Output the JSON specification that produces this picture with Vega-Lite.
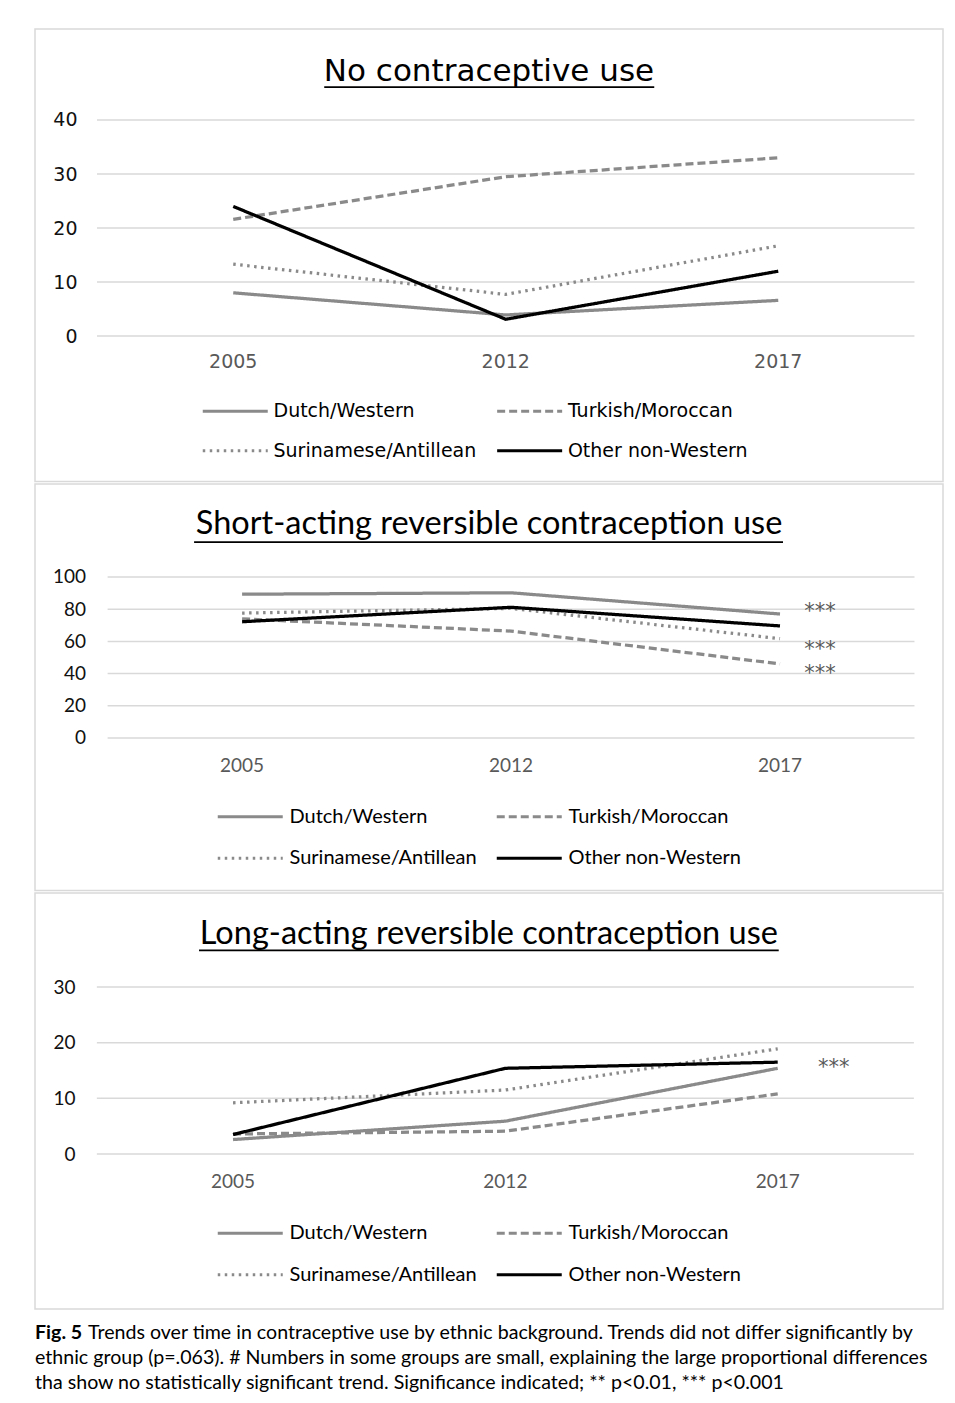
{
  "$schema": "https://vega.github.io/schema/vega-lite/v6.json",
  "background": "white",
  "padding": {"left": 34, "top": 28, "right": 13, "bottom": 5},
  "config": {
    "view": {"stroke": "#d9d9d9", "strokeWidth": 1.5},
    "concat": {"spacing": 0},
    "axis": {"grid": false, "domain": false, "ticks": false, "tickSize": 0}
  },
  "datasets": {
    "none": [
      {"year": "2005", "group": "Dutch/Western", "value": 8.0},
      {"year": "2012", "group": "Dutch/Western", "value": 3.9},
      {"year": "2017", "group": "Dutch/Western", "value": 6.6},
      {"year": "2005", "group": "Turkish/Moroccan", "value": 21.6},
      {"year": "2012", "group": "Turkish/Moroccan", "value": 29.5},
      {"year": "2017", "group": "Turkish/Moroccan", "value": 33.0},
      {"year": "2005", "group": "Surinamese/Antillean", "value": 13.3},
      {"year": "2012", "group": "Surinamese/Antillean", "value": 7.7},
      {"year": "2017", "group": "Surinamese/Antillean", "value": 16.7},
      {"year": "2005", "group": "Other non-Western", "value": 24.0},
      {"year": "2012", "group": "Other non-Western", "value": 3.1},
      {"year": "2017", "group": "Other non-Western", "value": 12.0}
    ],
    "short": [
      {"year": "2005", "group": "Dutch/Western", "value": 89.3},
      {"year": "2012", "group": "Dutch/Western", "value": 90.2},
      {"year": "2017", "group": "Dutch/Western", "value": 77.0},
      {"year": "2005", "group": "Turkish/Moroccan", "value": 74.0},
      {"year": "2012", "group": "Turkish/Moroccan", "value": 66.4},
      {"year": "2017", "group": "Turkish/Moroccan", "value": 46.0},
      {"year": "2005", "group": "Surinamese/Antillean", "value": 77.6},
      {"year": "2012", "group": "Surinamese/Antillean", "value": 80.5},
      {"year": "2017", "group": "Surinamese/Antillean", "value": 61.7},
      {"year": "2005", "group": "Other non-Western", "value": 72.2},
      {"year": "2012", "group": "Other non-Western", "value": 81.2},
      {"year": "2017", "group": "Other non-Western", "value": 69.6}
    ],
    "long": [
      {"year": "2005", "group": "Dutch/Western", "value": 2.6},
      {"year": "2012", "group": "Dutch/Western", "value": 5.9},
      {"year": "2017", "group": "Dutch/Western", "value": 15.4},
      {"year": "2005", "group": "Turkish/Moroccan", "value": 3.6},
      {"year": "2012", "group": "Turkish/Moroccan", "value": 4.1},
      {"year": "2017", "group": "Turkish/Moroccan", "value": 10.8},
      {"year": "2005", "group": "Surinamese/Antillean", "value": 9.2},
      {"year": "2012", "group": "Surinamese/Antillean", "value": 11.5},
      {"year": "2017", "group": "Surinamese/Antillean", "value": 18.9},
      {"year": "2005", "group": "Other non-Western", "value": 3.5},
      {"year": "2012", "group": "Other non-Western", "value": 15.4},
      {"year": "2017", "group": "Other non-Western", "value": 16.5}
    ],
    "ticks1": [{"tick": 0}, {"tick": 10}, {"tick": 20}, {"tick": 30}, {"tick": 40}],
    "ticks2": [{"tick": 0}, {"tick": 20}, {"tick": 40}, {"tick": 60}, {"tick": 80}, {"tick": 100}],
    "ticks3": [{"tick": 0}, {"tick": 10}, {"tick": 20}, {"tick": 30}],
    "sig2": [
      {"year": "2017", "value": 80.1, "label": "***"},
      {"year": "2017", "value": 56.5, "label": "***"},
      {"year": "2017", "value": 41.6, "label": "***"}
    ],
    "sig3": [
      {"year": "2017", "value": 15.6, "label": "***"}
    ]
  },
  "title": {
    "text": "Fig. 5",
    "subtitle": [
      "ethnic group (p=.063). # Numbers in some groups are small, explaining the large proportional differences",
      "tha show no statistically significant trend. Significance indicated; ** p<0.01, *** p<0.001"
    ],
    "orient": "bottom",
    "anchor": "start",
    "frame": "group",
    "baseline": "top",
    "offset": -19,
    "font": "Lato",
    "fontSize": 19.6,
    "fontWeight": "bold",
    "color": "#000000",
    "subtitleFont": "Lato",
    "subtitleFontSize": 19.6,
    "subtitleColor": "#000000",
    "subtitleLineHeight": 25,
    "subtitlePadding": 5.4
  },
  "vconcat": [
    {
      "width": 908,
      "height": 452.5,
      "layer": [
        {
          "data": {"name": "ticks1"},
          "mark": {"type": "rule", "color": "#d9d9d9", "strokeWidth": 1.5},
          "encoding": {
            "y": {"field": "tick", "type": "quantitative", "title": null},
            "x": {"datum": "2005", "bandPosition": 0, "title": null},
            "x2": {"datum": "2017", "bandPosition": 1}
          }
        },
        {
          "data": {"values": [{}]},
          "mark": {"type": "text", "font": "DejaVu Sans", "fontSize": 31, "color": "#000000", "align": "center", "baseline": "alphabetic", "dx": -16.75},
          "encoding": {
            "y": {"datum": 47.2, "title": null},
            "x": {"datum": "2012", "bandPosition": 0.5, "title": null},
            "text": {"value": "No contraceptive use"}
          }
        },
        {
          "data": {"values": [{}]},
          "mark": {"type": "rule", "color": "#000000", "strokeWidth": 1.8, "xOffset": 91, "x2Offset": -124},
          "encoding": {
            "y": {"datum": 46.1, "title": null},
            "x": {"datum": "2005", "bandPosition": 0.5, "title": null},
            "x2": {"datum": "2017", "bandPosition": 0.5}
          }
        },
        {
          "data": {"name": "none"},
          "mark": {"type": "line", "strokeWidth": 3.25},
          "encoding": {
            "x": {"field": "year", "type": "ordinal", "title": null,
              "scale": {"type": "band", "domain": ["2005", "2012", "2017"], "paddingInner": 0, "paddingOuter": 0.166, "align": 0.685},
              "axis": {"orient": "bottom", "offset": -120.5, "labelPadding": 0, "labelAngle": 0, "labelAlign": "center", "labelFont": "DejaVu Sans", "labelFontSize": 19, "labelColor": "#595959", "domain": false, "ticks": false, "grid": false}},
            "y": {"field": "value", "type": "quantitative", "title": null,
              "scale": {"domain": [-26.94, 56.85], "nice": false, "zero": false},
              "axis": {"orient": "left", "offset": -62, "labelPadding": 20, "values": [0, 10, 20, 30, 40], "labelFont": "DejaVu Sans", "labelFontSize": 19, "labelColor": "#111111", "domain": false, "ticks": false, "grid": false}},
            "color": {"field": "group", "type": "nominal",
              "scale": {"domain": ["Dutch/Western", "Turkish/Moroccan", "Surinamese/Antillean", "Other non-Western"], "range": ["#8a8a8a", "#8a8a8a", "#8a8a8a", "#000000"]},
              "legend": {"title": null, "orient": "none", "legendX": 182.25, "legendY": 364.25, "columns": 2, "direction": "horizontal", "padding": 0, "symbolType": "M-2,0H2", "symbolSize": 1056.25, "symbolStrokeWidth": 3, "symbolFillColor": "transparent", "labelOffset": 20.25, "columnPadding": 13.4, "rowPadding": 11.5, "labelFont": "DejaVu Sans", "labelFontSize": 19, "labelColor": "#000000", "labelLimit": 0}},
            "strokeDash": {"field": "group", "type": "nominal",
              "scale": {"domain": ["Dutch/Western", "Turkish/Moroccan", "Surinamese/Antillean", "Other non-Western"], "range": [[1, 0], [8, 4], [2.5, 4.5], [1, 0]]},
              "legend": {"title": null, "orient": "none", "legendX": 182.25, "legendY": 364.25, "columns": 2, "direction": "horizontal", "padding": 0, "symbolType": "M-2,0H2", "symbolSize": 1056.25, "symbolStrokeWidth": 3, "symbolFillColor": "transparent", "labelOffset": 20.25, "columnPadding": 13.4, "rowPadding": 11.5, "labelFont": "DejaVu Sans", "labelFontSize": 19, "labelColor": "#000000", "labelLimit": 0}}
          }
        }
      ]
    },
    {
      "width": 908,
      "height": 406.5,
      "layer": [
        {
          "data": {"name": "ticks2"},
          "mark": {"type": "rule", "color": "#d9d9d9", "strokeWidth": 1.5},
          "encoding": {
            "y": {"field": "tick", "type": "quantitative", "title": null},
            "x": {"datum": "2005", "bandPosition": 0, "title": null},
            "x2": {"datum": "2017", "bandPosition": 1}
          }
        },
        {
          "data": {"values": [{}]},
          "mark": {"type": "text", "font": "Lato", "fontSize": 32.5, "color": "#000000", "align": "center", "baseline": "alphabetic", "dx": -22},
          "encoding": {
            "y": {"datum": 126.7, "title": null},
            "x": {"datum": "2012", "bandPosition": 0.5, "title": null},
            "text": {"value": "Short-acting reversible contraception use"}
          }
        },
        {
          "data": {"values": [{}]},
          "mark": {"type": "rule", "color": "#000000", "strokeWidth": 1.8, "xOffset": -48, "x2Offset": 3},
          "encoding": {
            "y": {"datum": 121.7, "title": null},
            "x": {"datum": "2005", "bandPosition": 0.5, "title": null},
            "x2": {"datum": "2017", "bandPosition": 0.5}
          }
        },
        {
          "data": {"name": "short"},
          "mark": {"type": "line", "strokeWidth": 3.25},
          "encoding": {
            "x": {"field": "year", "type": "ordinal", "title": null,
              "scale": {"type": "band", "domain": ["2005", "2012", "2017"], "paddingInner": 0, "paddingOuter": 0.188, "align": 0.718},
              "axis": {"orient": "bottom", "offset": -125, "labelPadding": 0, "labelAngle": 0, "labelAlign": "center", "labelFont": "Lato", "labelFontSize": 19, "labelColor": "#595959", "domain": false, "ticks": false, "grid": false}},
            "y": {"field": "value", "type": "quantitative", "title": null,
              "scale": {"domain": [-94.72, 157.76], "nice": false, "zero": false},
              "axis": {"orient": "left", "offset": -72.6, "labelPadding": 22, "values": [0, 20, 40, 60, 80, 100], "labelFont": "Lato", "labelFontSize": 19, "labelColor": "#111111", "domain": false, "ticks": false, "grid": false}},
            "color": {"field": "group", "type": "nominal",
              "scale": {"domain": ["Dutch/Western", "Turkish/Moroccan", "Surinamese/Antillean", "Other non-Western"], "range": ["#8a8a8a", "#8a8a8a", "#8a8a8a", "#000000"]},
              "legend": {"title": null, "orient": "none", "legendX": 197.25, "legendY": 314.75, "columns": 2, "direction": "horizontal", "padding": 0, "symbolType": "M-2,0H2", "symbolSize": 1056.25, "symbolStrokeWidth": 3, "symbolFillColor": "transparent", "labelOffset": 21.25, "columnPadding": 13, "rowPadding": 13.5, "labelFont": "Lato", "labelFontSize": 20, "labelColor": "#000000", "labelLimit": 0}},
            "strokeDash": {"field": "group", "type": "nominal",
              "scale": {"domain": ["Dutch/Western", "Turkish/Moroccan", "Surinamese/Antillean", "Other non-Western"], "range": [[1, 0], [8, 4], [2.5, 4.5], [1, 0]]},
              "legend": {"title": null, "orient": "none", "legendX": 197.25, "legendY": 314.75, "columns": 2, "direction": "horizontal", "padding": 0, "symbolType": "M-2,0H2", "symbolSize": 1056.25, "symbolStrokeWidth": 3, "symbolFillColor": "transparent", "labelOffset": 21.25, "columnPadding": 13, "rowPadding": 13.5, "labelFont": "Lato", "labelFontSize": 20, "labelColor": "#000000", "labelLimit": 0}}
          }
        },
        {
          "data": {"name": "sig2"},
          "mark": {"type": "text", "font": "DejaVu Sans", "fontSize": 21, "color": "#595959", "align": "center", "baseline": "alphabetic", "dx": 40, "dy": 8.5},
          "encoding": {
            "x": {"field": "year", "type": "ordinal", "title": null},
            "y": {"field": "value", "type": "quantitative", "title": null},
            "text": {"field": "label"}
          }
        }
      ]
    },
    {
      "width": 908,
      "height": 416,
      "title": {
        "text": "Trends over time in contraceptive use by ethnic background. Trends did not differ significantly by",
        "orient": "bottom",
        "anchor": "start",
        "frame": "group",
        "baseline": "top",
        "offset": 15,
        "dx": 53,
        "font": "Lato",
        "fontSize": 19.6,
        "fontWeight": "normal",
        "color": "#000000"
      },
      "layer": [
        {
          "data": {"name": "ticks3"},
          "mark": {"type": "rule", "color": "#d9d9d9", "strokeWidth": 1.5},
          "encoding": {
            "y": {"field": "tick", "type": "quantitative", "title": null},
            "x": {"datum": "2005", "bandPosition": 0, "title": null},
            "x2": {"datum": "2017", "bandPosition": 1}
          }
        },
        {
          "data": {"values": [{}]},
          "mark": {"type": "text", "font": "Lato", "fontSize": 32.5, "color": "#000000", "align": "center", "baseline": "alphabetic", "dx": -16.5},
          "encoding": {
            "y": {"datum": 37.8, "title": null},
            "x": {"datum": "2012", "bandPosition": 0.5, "title": null},
            "text": {"value": "Long-acting reversible contraception use"}
          }
        },
        {
          "data": {"values": [{}]},
          "mark": {"type": "rule", "color": "#000000", "strokeWidth": 1.8, "xOffset": -34, "x2Offset": 1},
          "encoding": {
            "y": {"datum": 36.6, "title": null},
            "x": {"datum": "2005", "bandPosition": 0.5, "title": null},
            "x2": {"datum": "2017", "bandPosition": 0.5}
          }
        },
        {
          "data": {"name": "long"},
          "mark": {"type": "line", "strokeWidth": 3.25},
          "encoding": {
            "x": {"field": "year", "type": "ordinal", "title": null,
              "scale": {"type": "band", "domain": ["2005", "2012", "2017"], "paddingInner": 0, "paddingOuter": 0.167, "align": 0.68},
              "axis": {"orient": "bottom", "offset": -128, "labelPadding": 0, "labelAngle": 0, "labelAlign": "center", "labelFont": "Lato", "labelFontSize": 19, "labelColor": "#595959", "domain": false, "ticks": false, "grid": false}},
            "y": {"field": "value", "type": "quantitative", "title": null,
              "scale": {"domain": [-27.84, 46.89], "nice": false, "zero": false},
              "axis": {"orient": "left", "offset": -62, "labelPadding": 22, "values": [0, 10, 20, 30], "labelFont": "Lato", "labelFontSize": 19, "labelColor": "#111111", "domain": false, "ticks": false, "grid": false}},
            "color": {"field": "group", "type": "nominal",
              "scale": {"domain": ["Dutch/Western", "Turkish/Moroccan", "Surinamese/Antillean", "Other non-Western"], "range": ["#8a8a8a", "#8a8a8a", "#8a8a8a", "#000000"]},
              "legend": {"title": null, "orient": "none", "legendX": 197.25, "legendY": 322.25, "columns": 2, "direction": "horizontal", "padding": 0, "symbolType": "M-2,0H2", "symbolSize": 1056.25, "symbolStrokeWidth": 3, "symbolFillColor": "transparent", "labelOffset": 21.25, "columnPadding": 13, "rowPadding": 13.5, "labelFont": "Lato", "labelFontSize": 20, "labelColor": "#000000", "labelLimit": 0}},
            "strokeDash": {"field": "group", "type": "nominal",
              "scale": {"domain": ["Dutch/Western", "Turkish/Moroccan", "Surinamese/Antillean", "Other non-Western"], "range": [[1, 0], [8, 4], [2.5, 4.5], [1, 0]]},
              "legend": {"title": null, "orient": "none", "legendX": 197.25, "legendY": 322.25, "columns": 2, "direction": "horizontal", "padding": 0, "symbolType": "M-2,0H2", "symbolSize": 1056.25, "symbolStrokeWidth": 3, "symbolFillColor": "transparent", "labelOffset": 21.25, "columnPadding": 13, "rowPadding": 13.5, "labelFont": "Lato", "labelFontSize": 20, "labelColor": "#000000", "labelLimit": 0}}
          }
        },
        {
          "data": {"name": "sig3"},
          "mark": {"type": "text", "font": "DejaVu Sans", "fontSize": 21, "color": "#595959", "align": "center", "baseline": "alphabetic", "dx": 56, "dy": 7},
          "encoding": {
            "x": {"field": "year", "type": "ordinal", "title": null},
            "y": {"field": "value", "type": "quantitative", "title": null},
            "text": {"field": "label"}
          }
        }
      ]
    }
  ],
  "resolve": {
    "scale": {"color": "independent", "strokeDash": "independent"},
    "legend": {"color": "independent", "strokeDash": "independent"}
  }
}
